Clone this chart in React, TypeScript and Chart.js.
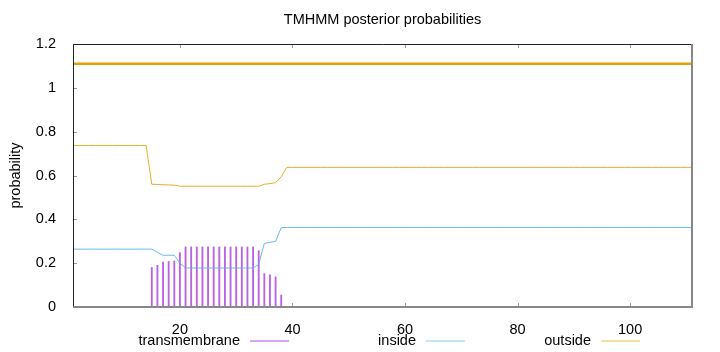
import React, { useEffect, useRef } from "react";
import { Chart, registerables } from "chart.js";

Chart.register(...registerables);

const TITLE = "TMHMM posterior probabilities";
const Y_TITLE = "probability";
const X_TICKS = [20, 40, 60, 80, 100];
const Y_TICKS = [0, 0.2, 0.4, 0.6, 0.8, 1, 1.2];
const SEQ_LEN = 111;

const positions: number[] = Array.from({ length: SEQ_LEN }, (_, i) => i + 1);

// posterior probability of "outside" per residue (1..111)
const outsideValues: number[] = [
  ...Array(14).fill(0.737),
  0.56, 0.559, 0.558, 0.557, 0.556,
  ...Array(15).fill(0.551),
  0.56, 0.563, 0.567, 0.594,
  ...Array(73).fill(0.637),
];

// posterior probability of "inside" per residue
const insideValues: number[] = [
  ...Array(15).fill(0.264),
  0.25, 0.236, 0.236, 0.236,
  0.2,
  ...Array(13).fill(0.178),
  0.195, 0.29, 0.295, 0.3, 0.362,
  ...Array(73).fill(0.363),
];

// posterior probability of "transmembrane" per residue
const tmValues: number[] = [
  ...Array(14).fill(0),
  0.18, 0.19, 0.205, 0.208, 0.21, 0.248,
  ...Array(13).fill(0.274),
  0.257, 0.152, 0.147, 0.138, 0.055,
  ...Array(73).fill(0),
];

// predicted topology line (whole sequence outside)
const topologyLevel = 1.11;

const LEGEND = [
  { label: "transmembrane", color: "#9400d3" },
  { label: "inside", color: "#56b4e9" },
  { label: "outside", color: "#e69f00" },
];

const FONT = "Liberation Sans, Arial, sans-serif";
const FS = 14.5;

export default function App() {
  const ref = useRef<HTMLCanvasElement | null>(null);

  useEffect(() => {
    const canvas = ref.current!;
    const framePlugin = {
      id: "frame",
      afterDraw(chart: any) {
        const { ctx, chartArea } = chart;
        const { left, right, top, bottom } = chartArea;
        const xs = chart.scales.x;
        const ys = chart.scales.y;
        ctx.save();
        // ticks (inward)
        ctx.strokeStyle = "#9a9a9a";
        ctx.lineWidth = 1;
        ctx.beginPath();
        X_TICKS.forEach((v) => {
          const px = Math.round(xs.getPixelForValue(v)) + 0.5;
          ctx.moveTo(px, bottom);
          ctx.lineTo(px, bottom - 4);
          ctx.moveTo(px, top);
          ctx.lineTo(px, top + 4);
        });
        Y_TICKS.forEach((v) => {
          const py = Math.round(ys.getPixelForValue(v)) + 0.5;
          ctx.moveTo(left, py);
          ctx.lineTo(left + 4, py);
        });
        ctx.stroke();
        // border
        ctx.strokeStyle = "#222";
        ctx.lineWidth = 1;
        ctx.beginPath();
        ctx.moveTo(Math.round(left) + 0.5, bottom);
        ctx.lineTo(Math.round(left) + 0.5, Math.round(top) + 0.5);
        ctx.lineTo(right, Math.round(top) + 0.5);
        ctx.stroke();
        ctx.strokeStyle = "#888";
        ctx.lineWidth = 2;
        ctx.beginPath();
        ctx.moveTo(left, Math.round(bottom));
        ctx.lineTo(Math.round(right), Math.round(bottom));
        ctx.lineTo(Math.round(right), top);
        ctx.stroke();

        // title
        ctx.fillStyle = "#000";
        ctx.font = `${FS}px ${FONT}`;
        ctx.textAlign = "center";
        ctx.textBaseline = "middle";
        ctx.fillText(TITLE, (left + right) / 2, 20);

        // y title
        ctx.save();
        ctx.translate(16, (top + bottom) / 2);
        ctx.rotate(-Math.PI / 2);
        ctx.fillText(Y_TITLE, 0, 0);
        ctx.restore();

        // legend
        const textRights = [240, 416, 591];
        ctx.textAlign = "right";
        LEGEND.forEach((item, i) => {
          const xr = textRights[i];
          ctx.fillStyle = "#000";
          ctx.fillText(item.label, xr, 341);
          ctx.strokeStyle = item.color;
          ctx.globalAlpha = 0.7;
          ctx.lineWidth = 1;
          ctx.beginPath();
          ctx.moveTo(xr + 10, 341);
          ctx.lineTo(xr + 49, 341);
          ctx.stroke();
          ctx.globalAlpha = 1;
        });
        ctx.restore();
      },
    };

    const chart = new Chart(canvas, {
      type: "bar",
      data: {
        datasets: [
          {
            type: "line",
            label: "topology",
            data: [
              { x: 1, y: topologyLevel },
              { x: SEQ_LEN, y: topologyLevel },
            ],
            borderColor: "#e69f00",
            borderWidth: 2.5,
            pointRadius: 0,
            order: 1,
          },
          {
            type: "line",
            label: "outside",
            data: positions.map((x, i) => ({ x, y: outsideValues[i] })),
            borderColor: "rgba(230,159,0,0.85)",
            borderWidth: 1,
            pointRadius: 0,
            tension: 0,
            order: 2,
          },
          {
            type: "line",
            label: "inside",
            data: positions.map((x, i) => ({ x, y: insideValues[i] })),
            borderColor: "rgba(86,180,233,0.9)",
            borderWidth: 1,
            pointRadius: 0,
            tension: 0,
            order: 3,
          },
          {
            type: "bar",
            label: "transmembrane",
            data: positions.map((x, i) => ({ x, y: tmValues[i] })),
            backgroundColor: "rgba(148,0,211,0.62)",
            barThickness: 1.2,
            order: 4,
          } as any,
        ],
      },
      options: {
        responsive: false,
        animation: false,
        devicePixelRatio: 1,
        layout: { padding: { top: 44, right: 28, left: 0, bottom: 0 } },
        plugins: {
          legend: { display: false },
          title: { display: false },
          tooltip: { enabled: false },
        },
        scales: {
          x: {
            type: "linear",
            min: 1,
            max: SEQ_LEN,
            offset: false,
            grid: { display: false },
            border: { display: false },
            afterBuildTicks: (s: any) => {
              s.ticks = X_TICKS.map((v) => ({ value: v }));
            },
            afterFit: (s: any) => {
              s.height = 45;
            },
            ticks: {
              autoSkip: false,
              maxRotation: 0,
              padding: 6,
              color: "#000",
              font: { family: FONT, size: FS },
              callback: (v: any) => String(v),
            },
          },
          y: {
            type: "linear",
            min: 0,
            max: 1.2,
            grid: { display: false },
            border: { display: false },
            afterBuildTicks: (s: any) => {
              s.ticks = Y_TICKS.map((v) => ({ value: v }));
            },
            afterFit: (s: any) => {
              s.width = 73;
            },
            ticks: {
              padding: 9,
              color: "#000",
              font: { family: FONT, size: FS },
              callback: (v: any) => String(Number(Number(v).toFixed(1))),
            },
          },
        },
      },
      plugins: [framePlugin],
    });
    return () => chart.destroy();
  }, []);

  return (
    <div style={{ position: "fixed", left: 0, top: 0, width: 720, height: 352, background: "#fff" }}>
      <canvas ref={ref} width={720} height={352} style={{ display: "block", width: 720, height: 352 }} />
    </div>
  );
}
